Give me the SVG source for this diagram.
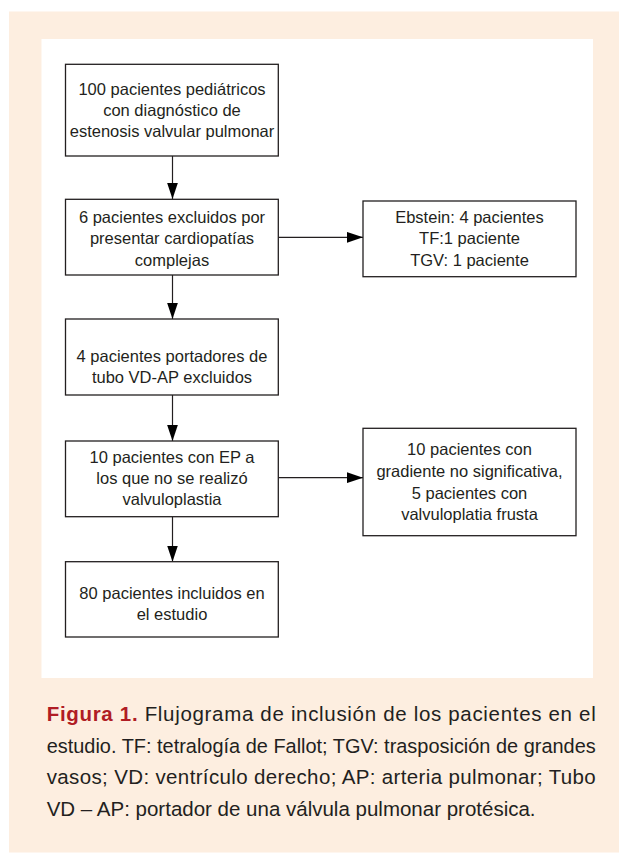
<svg xmlns="http://www.w3.org/2000/svg" width="619" height="854" viewBox="0 0 619 854">
<style>
.box{fill:#ffffff;stroke:#231f20;stroke-width:1.3}
.t{font-family:"Liberation Sans",Arial,sans-serif;font-size:16.5px;fill:#231f20;text-anchor:middle}
.cap{font-family:"Liberation Sans",Arial,sans-serif;font-size:20.5px;fill:#231f20}
.fig{font-weight:bold;fill:#b01c24}
.con{stroke:#231f20;stroke-width:1.2;fill:none;marker-end:url(#arr)}
</style>
<defs>
<marker id="arr" markerUnits="userSpaceOnUse" markerWidth="16" markerHeight="11" refX="16" refY="5.35" orient="auto">
<path d="M0,0 L16,5.35 L0,10.7 z" fill="#000"/>
</marker>
</defs>
<rect x="9" y="11.5" width="610" height="841" fill="#fdeee0"/>
<rect x="41.5" y="39" width="551.5" height="639" fill="#ffffff"/>
<g id="connectors">
<line class="con" x1="172.5" y1="156" x2="172.5" y2="199"/>
<line class="con" x1="278.3" y1="237.3" x2="363" y2="237.3"/>
<line class="con" x1="172.5" y1="275" x2="172.5" y2="319"/>
<line class="con" x1="172.5" y1="395" x2="172.5" y2="441"/>
<line class="con" x1="278.3" y1="477.7" x2="363" y2="477.7"/>
<line class="con" x1="172.5" y1="516.7" x2="172.5" y2="561.7"/>
</g>
<g id="n1">
<rect class="box" x="65.5" y="64.3" width="212.8" height="91.7"/>
<text class="t"><tspan x="172" y="94.5">100 pacientes pediátricos</tspan><tspan x="172" y="115.5">con diagnóstico de</tspan><tspan x="172" y="136.5">estenosis valvular pulmonar</tspan></text>
</g>
<g id="n2">
<rect class="box" x="65.5" y="199.3" width="212.8" height="75.7"/>
<text class="t"><tspan x="172" y="222.7">6 pacientes excluidos por</tspan><tspan x="172" y="244">presentar cardiopatías</tspan><tspan x="172" y="265.5">complejas</tspan></text>
</g>
<g id="n2r">
<rect class="box" x="363" y="201" width="213" height="75.7"/>
<text class="t"><tspan x="469.5" y="222.7">Ebstein: 4 pacientes</tspan><tspan x="469.5" y="244">TF:1 paciente</tspan><tspan x="469.5" y="265.5">TGV: 1 paciente</tspan></text>
</g>
<g id="n3">
<rect class="box" x="65.5" y="319" width="212.8" height="76"/>
<text class="t"><tspan x="172" y="361.7">4 pacientes portadores de</tspan><tspan x="172" y="382.5">tubo VD-AP excluidos</tspan></text>
</g>
<g id="n4">
<rect class="box" x="65.5" y="441" width="212.8" height="75.7"/>
<text class="t"><tspan x="172" y="462.5">10 pacientes con EP a</tspan><tspan x="172" y="483.5">los que no se realizó</tspan><tspan x="172" y="504.5">valvuloplastia</tspan></text>
</g>
<g id="n4r">
<rect class="box" x="363" y="428.3" width="213" height="107.4"/>
<text class="t"><tspan x="469.5" y="455">10 pacientes con</tspan><tspan x="469.5" y="477">gradiente no significativa,</tspan><tspan x="469.5" y="498.5">5 pacientes con</tspan><tspan x="469.5" y="520">valvuloplatia frusta</tspan></text>
</g>
<g id="n5">
<rect class="box" x="65.5" y="561.7" width="212.8" height="75.3"/>
<text class="t"><tspan x="172" y="598.5">80 pacientes incluidos en</tspan><tspan x="172" y="619.5">el estudio</tspan></text>
</g>
<g id="caption">
<text class="cap" x="46.7" y="721" textLength="549" lengthAdjust="spacing"><tspan class="fig">Figura 1.</tspan> Flujograma de inclusión de los pacientes en el</text>
<text class="cap" x="46.7" y="752.7" textLength="549" lengthAdjust="spacingAndGlyphs">estudio. TF: tetralogía de Fallot; TGV: trasposición de grandes</text>
<text class="cap" x="46.7" y="784.3" textLength="549" lengthAdjust="spacing">vasos; VD: ventrículo derecho; AP: arteria pulmonar; Tubo</text>
<text class="cap" x="46.7" y="816">VD – AP: portador de una válvula pulmonar protésica.</text>
</g>
</svg>
